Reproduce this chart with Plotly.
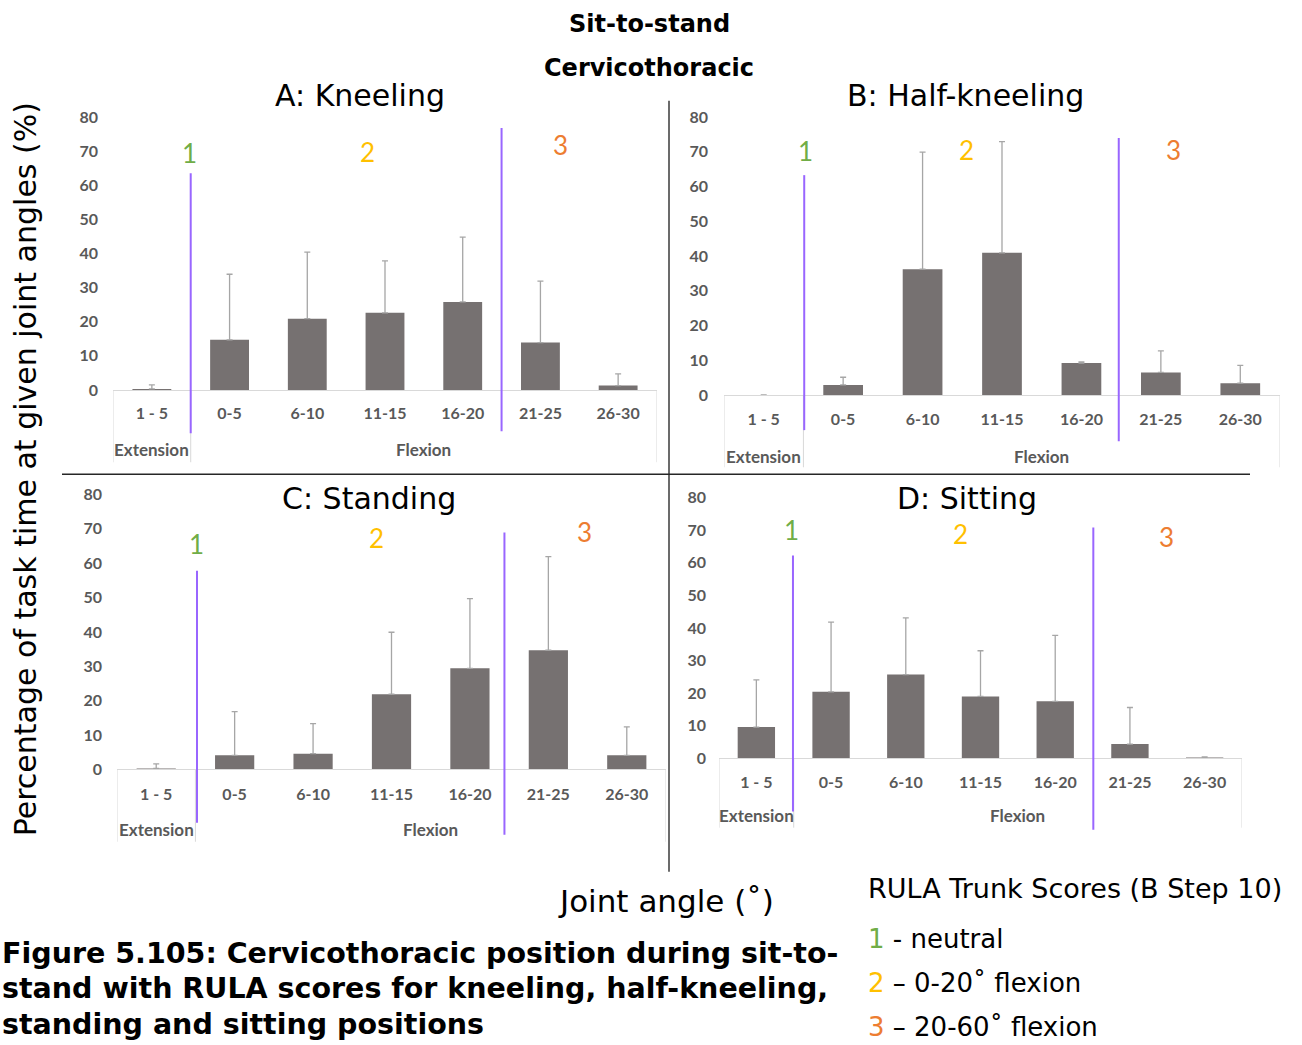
import plotly.graph_objects as go

# ---------------- data ----------------
categories = ["1 - 5", "0-5", "6-10", "11-15", "16-20", "21-25", "26-30"]
group_labels = ["Extension", "Flexion"]

panel_titles = ["A: Kneeling", "B: Half-kneeling", "C: Standing", "D: Sitting"]

kneeling_mean = [0.3, 14.7, 20.9, 22.6, 25.8, 13.9, 1.3]
kneeling_sd = [1.2, 19.2, 19.5, 15.2, 19.0, 18.0, 3.4]

half_kneeling_mean = [0.0, 2.9, 36.2, 40.9, 9.2, 6.5, 3.4]
half_kneeling_sd = [0.0, 2.2, 33.7, 32.0, 0.3, 6.2, 5.1]

standing_mean = [0.3, 4.1, 4.6, 21.9, 29.4, 34.7, 4.1]
standing_sd = [1.3, 12.7, 8.7, 18.0, 20.3, 27.2, 8.3]

sitting_mean = [9.6, 20.4, 25.7, 19.0, 17.5, 4.4, 0.1]
sitting_sd = [14.5, 21.4, 17.4, 14.0, 20.2, 11.2, 0.4]

y_tick_values = [0, 10, 20, 30, 40, 50, 60, 70, 80]
rula_labels = ["1", "2", "3"]
legend_title = "RULA Trunk Scores (B Step 10)"
legend_items = [" - neutral", " – 0-20˚ flexion", " – 20-60˚ flexion"]

means = [kneeling_mean, half_kneeling_mean, standing_mean, sitting_mean]
sds = [kneeling_sd, half_kneeling_sd, standing_sd, sitting_sd]

# ---------------- layout helpers ----------------
W, H = 1302, 1045
V_SCALE, V_OFF = 0.978, 11.5   # compensation for vertical page mapping


def px(x):
    return x / W


def py(y):
    return 1 - ((y - V_OFF) / V_SCALE) / H


BAR = "#767171"
ERR = "#A6A6A6"
AXC = "#D9D9D9"
TXT = "#595959"
PURPLE = "#9966FF"
RULA_COLORS = ["#70AD47", "#FFC000", "#ED7D31"]
MAIN_FONT = "DejaVu Sans"
TICK_FONT = "Lato"

# pixel geometry for each panel
panels = [
    dict(x0=113, x1=657, y0=390, y80=118, ylab_right=96, title=(360, 97),
         box_bottom=462, cat_y=413, grp_y=449,
         lines=[(0.5, 174, 433), (4.5, 129, 431)],
         nums=[(189, 154), (367, 153), (560, 146)]),
    dict(x0=724, x1=1280, y0=395, y80=118, ylab_right=706, title=(965, 97),
         box_bottom=467, cat_y=419, grp_y=456,
         lines=[(0.51, 176, 430), (4.47, 139, 441)],
         nums=[(805, 152), (966, 151), (1173, 151)]),
    dict(x0=117, x1=666, y0=768, y80=494, ylab_right=100, title=(369, 498),
         box_bottom=840, cat_y=792, grp_y=828,
         lines=[(0.52, 570, 821), (4.44, 532, 833)],
         nums=[(196, 543), (376, 537), (584, 531)]),
    dict(x0=719, x1=1242, y0=757, y80=497, ylab_right=704, title=(967, 498),
         box_bottom=826, cat_y=780, grp_y=814,
         lines=[(0.49, 555, 810), (4.51, 527, 828)],
         nums=[(791, 529), (960, 533), (1166, 536)]),
]

fig = go.Figure()
shapes = []
annotations = []


def note(text, x, y, size, color="black", family=MAIN_FONT, xanchor="center",
         textangle=0, weight="normal"):
    annotations.append(dict(text=text, xref="paper", yref="paper", x=px(x),
                            y=py(y), showarrow=False, xanchor=xanchor,
                            yanchor="middle", textangle=textangle,
                            font=dict(family=family, size=size, color=color,
                                      weight=weight)))


for i, (p, m, s) in enumerate(zip(panels, means, sds)):
    n = i + 1
    xa = "x" if n == 1 else f"x{n}"
    ya = "y" if n == 1 else f"y{n}"
    fig.add_trace(go.Bar(
        x=categories, y=m, xaxis=xa, yaxis=ya, width=0.5,
        marker=dict(color=BAR, line=dict(width=0)),
        error_y=dict(type="data", array=s, arrayminus=[0] * len(s),
                     symmetric=False, color=ERR, thickness=1.3, width=3),
        showlegend=False, hoverinfo="skip",
    ))
    xkey = "xaxis" if n == 1 else f"xaxis{n}"
    ykey = "yaxis" if n == 1 else f"yaxis{n}"
    fig.update_layout({
        xkey: dict(domain=[px(p["x0"]), px(p["x1"])], anchor=ya,
                   type="category", categoryorder="array",
                   categoryarray=categories, range=[-0.5, 6.5],
                   showline=True, linecolor=AXC, linewidth=1,
                   showgrid=False, zeroline=False, ticks="",
                   ticklabelstandoff=max(p["cat_y"] - p["y0"] - 14, 0),
                   tickfont=dict(family=TICK_FONT, size=16, color=TXT,
                                 weight="bold"),
                   fixedrange=True),
        ykey: dict(domain=[py(p["y0"]), py(p["y80"])], anchor=xa,
                   range=[0, 80], tickvals=y_tick_values,
                   showline=False, showgrid=False, zeroline=False, ticks="",
                   ticklabelstandoff=max(p["x0"] - p["ylab_right"] - 3, 0),
                   tickfont=dict(family=TICK_FONT, size=16, color=TXT,
                                 weight="bold"),
                   fixedrange=True),
    })
    # category box lines
    for bx in (-0.5, 0.5, 6.5):
        shapes.append(dict(type="line", xref=xa, yref="paper", x0=bx, x1=bx,
                           y0=py(p["y0"]), y1=py(p["box_bottom"]),
                           line=dict(color=AXC, width=1)))
    # group labels
    for gx, g in zip((0, 3.5), group_labels):
        annotations.append(dict(text=g, xref=xa, yref="paper", x=gx,
                                y=py(p["grp_y"]), showarrow=False,
                                xanchor="center", yanchor="middle",
                                font=dict(family=TICK_FONT, size=17, color=TXT,
                                          weight="bold")))
    # RULA boundary lines
    for lx, ly0, ly1 in p["lines"]:
        shapes.append(dict(type="line", xref=xa, yref="paper", x0=lx, x1=lx,
                           y0=py(ly1), y1=py(ly0),
                           line=dict(color=PURPLE, width=2)))
    # RULA score numbers
    for (nx, ny), lab, col in zip(p["nums"], rula_labels, RULA_COLORS):
        note(lab, nx, ny, 26, color=col, family=TICK_FONT)
    # panel title
    tx, ty = p["title"]
    note(panel_titles[i], tx, ty, 30)

# divider lines
shapes.append(dict(type="line", xref="paper", yref="paper",
                   x0=px(669), x1=px(669), y0=py(102), y1=py(870),
                   line=dict(color="#3A3A3A", width=1.5)))
shapes.append(dict(type="line", xref="paper", yref="paper",
                   x0=px(62), x1=px(1250), y0=py(474), y1=py(474),
                   line=dict(color="#262626", width=1.5)))

# main titles
note("<b>Sit-to-stand</b>", 649, 25, 24)
note("<b>Cervicothoracic</b>", 649, 69, 24)

# axis titles
note("Percentage of task time at given joint angles (%)", 25, 469, 30,
     textangle=-90)
note("Joint angle (˚)", 666, 899, 31)

# RULA legend text
note(legend_title, 866, 887, 27, xanchor="left")
for k, (lab, item, col) in enumerate(zip(rula_labels, legend_items, RULA_COLORS)):
    note(f"<span style='color:{col}'>{lab}</span>{item}", 866, 937 + 44 * k,
         26, xanchor="left")

# figure caption
caption_lines = [
    "Figure 5.105: Cervicothoracic position during sit-to-",
    "stand with RULA scores for kneeling, half-kneeling,",
    "standing and sitting positions",
]
for k, line in enumerate(caption_lines):
    note(f"<b>{line}</b>", 0, 951 + 35.5 * k, 28.5, xanchor="left")

fig.update_layout(
    width=W, height=H, autosize=False,
    margin=dict(l=0, r=0, t=0, b=0, pad=0),
    paper_bgcolor="white", plot_bgcolor="white",
    bargap=0.5, shapes=shapes, annotations=annotations,
    showlegend=False,
)

fig.write_html("out.html", config={"displayModeBar": False},
               post_script="document.body.style.margin='0';document.body.style.overflow='hidden';")
